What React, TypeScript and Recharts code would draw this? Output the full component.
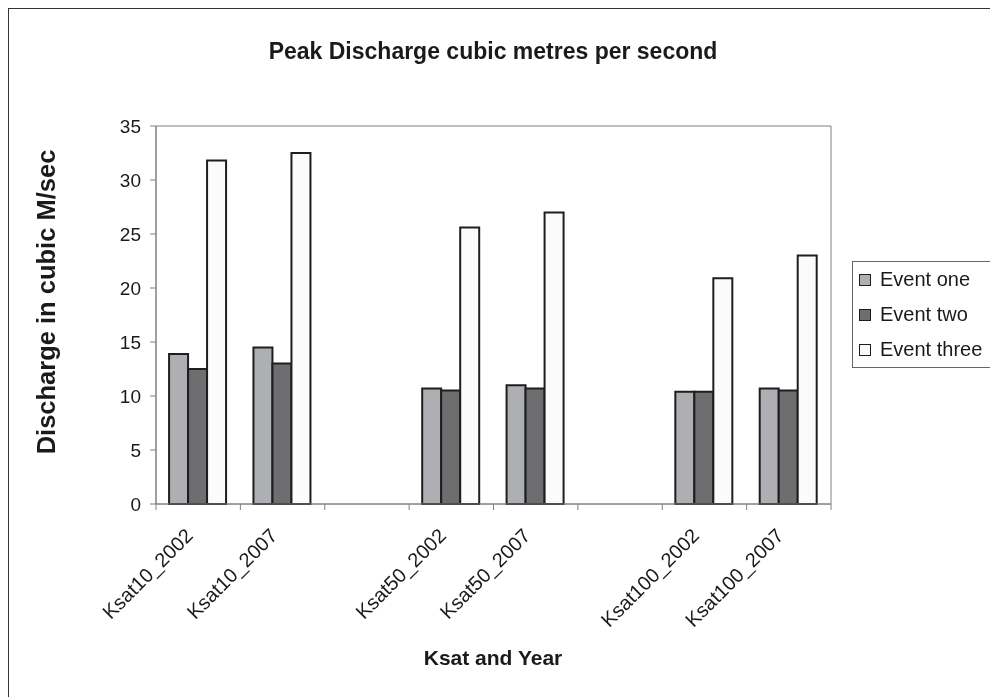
import { Bar, BarChart, ReferenceArea, XAxis, YAxis } from 'recharts'

const categories = [
  'Ksat10_2002',
  'Ksat10_2007',
  '',
  'Ksat50_2002',
  'Ksat50_2007',
  '',
  'Ksat100_2002',
  'Ksat100_2007',
]
const eventOne = [13.9, 14.5, null, 10.7, 11.0, null, 10.4, 10.7]
const eventTwo = [12.5, 13.0, null, 10.5, 10.7, null, 10.4, 10.5]
const eventThree = [31.8, 32.5, null, 25.6, 27.0, null, 20.9, 23.0]
const yTicks = [0, 5, 10, 15, 20, 25, 30, 35]

const series = [
  { key: 'one', name: 'Event one', fill: '#aeafb3' },
  { key: 'two', name: 'Event two', fill: '#6e6e70' },
  { key: 'three', name: 'Event three', fill: '#fbfbfb' },
]

const rows = categories.map((c, i) => ({
  cat: c,
  one: eventOne[i],
  two: eventTwo[i],
  three: eventThree[i],
}))

const FONT = '"Liberation Sans", Arial, sans-serif'
const TEXT = '#1a1a1a'
const AXIS = '#808080'
const BAR_STROKE = '#1e1e1e'

function CatTick(props: any) {
  const { x, y, payload, index } = props
  const half = payload?.offset ?? 42
  const last = index === categories.length - 1
  const tx = x - 4
  const ty = y + 33
  return (
    <g>
      <line x1={x - half} x2={x - half} y1={y} y2={y + 6} stroke={AXIS} />
      {last && <line x1={x + half} x2={x + half} y1={y} y2={y + 6} stroke={AXIS} />}
      {payload.value ? (
        <text
          x={tx}
          y={ty}
          transform={`rotate(-45 ${tx} ${ty})`}
          textAnchor="end"
          fill={TEXT}
          fontSize={20}
          fontFamily={FONT}
        >
          {payload.value}
        </text>
      ) : null}
    </g>
  )
}

export default function App() {
  return (
    <div
      style={{
        position: 'fixed',
        left: 8,
        top: 8,
        width: 982,
        height: 689,
        overflow: 'hidden',
        fontFamily: FONT,
        color: TEXT,
      }}
    >
      <style>{'html,body{overflow:hidden}'}</style>
      {/* outer chart frame, only left and top show in the crop */}
      <div style={{ position: 'absolute', left: 0, top: 0, width: 1, height: 700, background: '#333' }} />
      <div style={{ position: 'absolute', left: 0, top: 0, width: 1000, height: 1, background: '#333' }} />

      <div
        style={{
          position: 'absolute',
          left: 0,
          width: 970,
          top: 32,
          textAlign: 'center',
          fontWeight: 'bold',
          fontSize: 23,
          lineHeight: '23px',
        }}
      >
        Peak Discharge cubic metres per second
      </div>

      <div
        style={{
          position: 'absolute',
          left: 38 - 200,
          top: 294 - 15,
          width: 400,
          height: 30,
          lineHeight: '30px',
          textAlign: 'center',
          fontWeight: 'bold',
          fontSize: 25.5,
          transform: 'rotate(-90deg)',
        }}
      >
        Discharge in cubic M/sec
      </div>

      <div
        style={{
          position: 'absolute',
          left: 0,
          width: 970,
          top: 650 - 12,
          textAlign: 'center',
          fontWeight: 'bold',
          fontSize: 21,
          lineHeight: '24px',
        }}
      >
        Ksat and Year
      </div>

      <BarChart
        width={982}
        height={681}
        data={rows}
        margin={{ top: 118, right: 159, left: 88, bottom: 35 }}
        barCategoryGap="15.5%"
        barGap={0}
      >
        <ReferenceArea y1={0} y2={35} fill="none" stroke={AXIS} ifOverflow="visible" />
        <XAxis
          dataKey="cat"
          interval={0}
          height={150}
          tickSize={0}
          tickMargin={0}
          tickLine={false}
          axisLine={{ stroke: AXIS }}
          tick={<CatTick />}
        />
        <YAxis
          width={60}
          domain={[0, 35]}
          ticks={yTicks}
          interval={0}
          tickSize={6}
          tickMargin={9}
          axisLine={{ stroke: AXIS }}
          tickLine={{ stroke: AXIS }}
          tick={{ fill: TEXT, fontSize: 19, fontFamily: FONT }}
        />
        {series.map((s) => (
          <Bar
            key={s.key}
            dataKey={s.key}
            name={s.name}
            fill={s.fill}
            stroke={BAR_STROKE}
            strokeWidth={2}
            isAnimationActive={false}
          />
        ))}
      </BarChart>

      <div
        style={{
          position: 'absolute',
          left: 844,
          top: 253,
          width: 240,
          height: 105,
          border: '1px solid #666',
          background: '#fff',
        }}
      >
        {series.map((s) => (
          <div
            key={s.key}
            style={{ position: 'relative', height: 35, display: 'flex', alignItems: 'center' }}
          >
            <span
              style={{
                display: 'inline-block',
                width: 10,
                height: 10,
                marginLeft: 6,
                marginRight: 9,
                background: s.fill,
                border: `1.5px solid ${BAR_STROKE}`,
              }}
            />
            <span style={{ fontSize: 20, whiteSpace: 'nowrap' }}>{s.name}</span>
          </div>
        ))}
      </div>
    </div>
  )
}
